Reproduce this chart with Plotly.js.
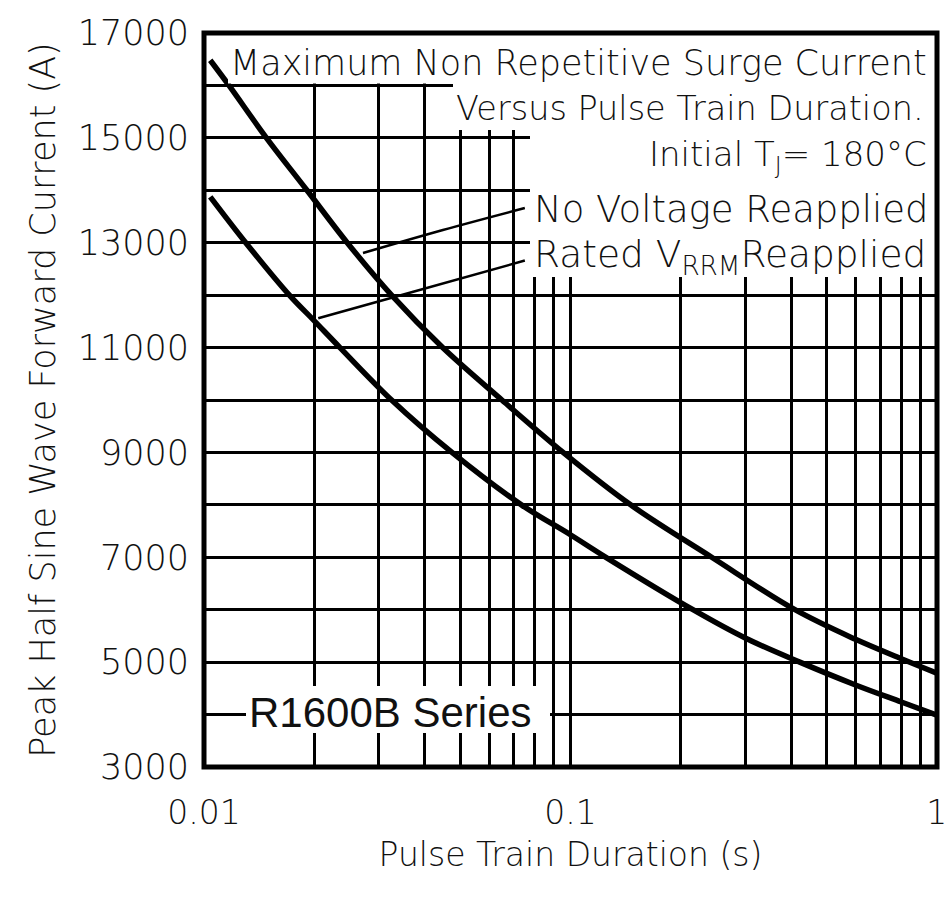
<!DOCTYPE html>
<html><head><meta charset="utf-8">
<script src="https://cdn.plot.ly/plotly-3.0.1.min.js"></script>
<style>html,body{margin:0;padding:0;background:#fff}</style>
</head><body><div id="chart" style="width:946px;height:898px"></div>
<script>
// ---- data ----
const noVoltageX = [0.0104, 0.0117, 0.0148, 0.0191, 0.0246, 0.0325, 0.0448, 0.0650, 0.0955, 0.146, 0.243, 0.410, 0.600, 0.800, 1.000];
const noVoltageY = [16480, 16000, 15000, 14000, 13000, 12000, 11000, 10000, 9000, 8000, 7000, 6000, 5435, 5065, 4790];
const ratedX = [0.0104, 0.0130, 0.0171, 0.0200, 0.0235, 0.0325, 0.0475, 0.0735, 0.100, 0.125, 0.216, 0.300, 0.4226, 0.600, 0.800, 1.000];
const ratedY = [13875, 13000, 12000, 11510, 11000, 10000, 9000, 8000, 7430, 7000, 6000, 5460, 5000, 4565, 4240, 3990];
const noVoltLeaderX = [0.02716, 0.04487, 0.0751];
const noVoltLeaderY = [12804, 13243, 13662];
const ratedLeaderX = [0.0205, 0.03725, 0.0751];
const ratedLeaderY = [11558, 12066, 12660];
const xTickVals = [0.01,0.02,0.03,0.04,0.05,0.06,0.07,0.08,0.09,0.1,0.2,0.3,0.4,0.5,0.6,0.7,0.8,0.9,1];
const xTickText = ['0.01','','','','','','','','','0.1','','','','','','','','','1'];
const yTickVals = [3000,4000,5000,6000,7000,8000,9000,10000,11000,12000,13000,14000,15000,16000,17000];
const yTickText = ['3000','','5000','','7000','','9000','','11000','','13000','','15000','','17000'];
const titleLines = ['Maximum Non Repetitive Surge Current', 'Versus Pulse Train Duration.', 'Initial T<sub>J</sub>= 180°C'];
const seriesLabels = ['No Voltage Reapplied', 'Rated V<sub>RRM</sub>Reapplied'];
const seriesName = 'R1600B Series';

// ---- layout geometry (pixels) ----
const W = 946, H = 898, L = 204, R = 9, T = 33, B = 131;
const pw = W - L - R, ph = H - T - B;
const px = v => (v - L) / pw;          // pixel -> paper x
const py = v => (H - B - v) / ph;      // pixel -> paper y

const FONT = 'DejaVu Sans, sans-serif';
const TXT = '#111';
const WT = 200;

const curve = (x, y, w) => ({x, y, type: 'scatter', mode: 'lines',
  line: {color: '#000', width: w, shape: 'spline', smoothing: 1},
  hoverinfo: 'skip', showlegend: false});

const data = [
  curve(noVoltageX, noVoltageY, 5.5),
  curve(ratedX, ratedY, 5.5),
  curve(noVoltLeaderX, noVoltLeaderY, 2.5),
  curve(ratedLeaderX, ratedLeaderY, 2.5)
];

const box = (x0, y0, x1, y1) => ({type: 'rect', xref: 'paper', yref: 'paper',
  x0: px(x0), x1: px(x1), y0: py(y1), y1: py(y0),
  fillcolor: '#fff', line: {width: 0}, layer: 'above'});

const ann = (text, x, y, anchor, size, family, weight) => ({text, xref: 'paper', yref: 'paper',
  x: px(x), y: py(y), xanchor: anchor, yanchor: 'middle', showarrow: false,
  font: {family: family || FONT, size: size, color: TXT, weight: weight || WT}});

const tf = (size) => ({family: FONT, size: size, color: TXT, weight: WT});

const layout = {
  width: W, height: H,
  margin: {l: L, r: R, t: T, b: B},
  paper_bgcolor: '#fff', plot_bgcolor: '#fff',
  xaxis: {
    type: 'log', range: [-2, 0.0005], tickmode: 'array', tickvals: xTickVals, ticktext: xTickText,
    showgrid: true, gridcolor: '#000', gridwidth: 3, zeroline: false,
    showline: false, ticks: '', ticklabeloverflow: 'allow',
    ticklabelstandoff: 23,
    tickfont: tf(33),
    title: {text: 'Pulse Train Duration (s)', font: tf(33), standoff: 11}
  },
  yaxis: {
    range: [3000, 17000], tickmode: 'array', tickvals: yTickVals, ticktext: yTickText,
    showgrid: true, gridcolor: '#000', gridwidth: 3, zeroline: false,
    showline: false, ticks: '',
    ticklabelstandoff: 14,
    tickfont: tf(35),
    title: {text: 'Peak Half Sine Wave Forward Current (A)', font: tf(35), standoff: 11}
  },
  shapes: [
    box(228, 35, 935, 83.5),
    box(453, 83, 935, 130),
    box(530, 128, 935, 277),
    box(246, 686, 550, 733),
    {type: 'rect', xref: 'paper', yref: 'paper', x0: 0, x1: 1, y0: 0, y1: 1,
     line: {color: '#000', width: 5}, fillcolor: 'rgba(0,0,0,0)', layer: 'above'}
  ],
  annotations: [
    ann(titleLines[0], 929, 63, 'right', 35),
    ann(titleLines[1], 926, 109, 'right', 33.5),
    ann(titleLines[2], 929, 156, 'right', 34),
    ann(seriesLabels[0], 532, 209, 'left', 37),
    ann(seriesLabels[1], 532, 256, 'left', 37.5),
    ann(seriesName, 247, 712, 'left', 42, 'Liberation Sans, Arial, sans-serif', 400)
  ]
};

Plotly.newPlot('chart', data, layout, {staticPlot: true, displayModeBar: false});
</script>
</body></html>
